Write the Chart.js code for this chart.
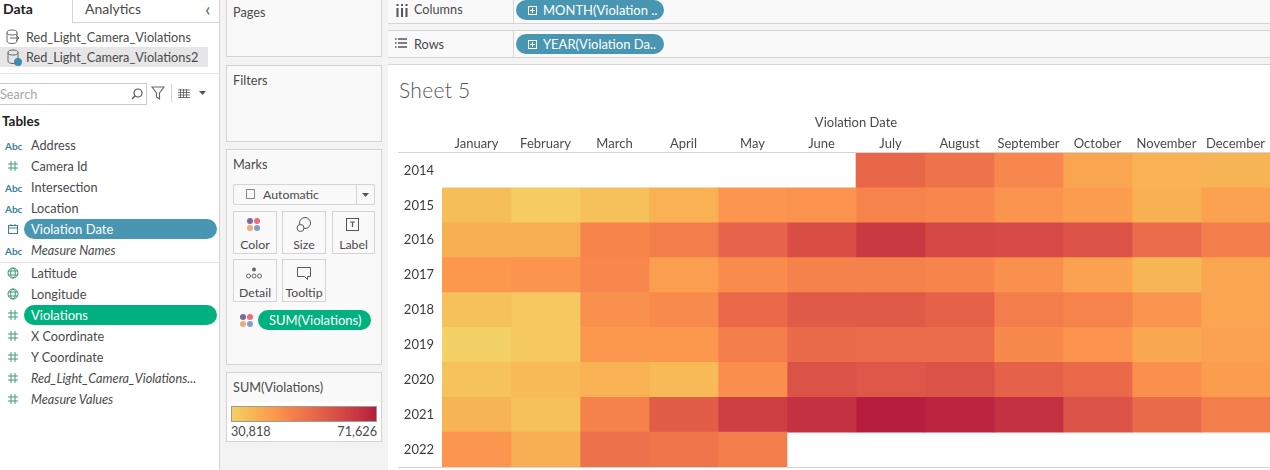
<!DOCTYPE html>
<html>
<head>
<meta charset="utf-8">
<title>Sheet 5</title>
<script src="https://cdn.jsdelivr.net/npm/chart.js@4/dist/chart.umd.min.js"></script>
<style>
  html, body { margin: 0; padding: 0; background: #fff; }
  #page { position: relative; width: 1270px; height: 470px; overflow: hidden; font: 12.7px Lato, sans-serif; color: #4a4a4a; background: #fff; }
  #page > * { position: absolute; box-sizing: border-box; }
  .t { white-space: nowrap; line-height: 16px; }
  .panel { background: #f9f9f9; border: 1px solid #d4d4d4; }
  .btn { background: #f9f9f9; border: 1px solid #d4d4d4; text-align: center; padding-top: 25px; line-height: 16px; font-size: 12.3px; }
  .pill { border-radius: 10px; color: #fff; height: 20px; line-height: 20px; padding-left: 7px; white-space: nowrap; font-size: 13px; }
  .line { background: #d4d4d4; }
  svg { overflow: visible; }
</style>
</head>
<body>
<div id="page">
  <canvas id="heat" width="872" height="364" style="left:398px;top:104px;width:872px;height:364px"></canvas>
</div>
<script>
const months = ['January','February','March','April','May','June','July','August','September','October','November','December'];
const years = ['2014','2015','2016','2017','2018','2019','2020','2021','2022'];

// SUM(Violations) per month
const v2014 = [null,null,null,null,null,null,54079,51222,46325,39796,37347,36939];
const v2015 = [34899,32042,34491,37347,43060,43877,47141,46325,43468,41836,37755,40612];
const v2016 = [38163,38163,46733,48365,54895,60200,65505,61832,61424,59384,52854,48774];
const v2017 = [42652,43468,46325,41428,45101,47549,47549,46733,44285,40612,36531,39796];
const v2018 = [34491,32858,44285,45509,53670,57343,57343,55303,48774,47141,43468,39796];
const v2019 = [30818,32858,42652,42652,48774,53262,52854,52854,45917,43877,39388,40612];
const v2020 = [34083,35715,37347,35715,44693,59384,58159,59384,55303,53670,44285,41836];
const v2021 = [36939,34491,47549,56527,64281,67545,71626,69994,67545,59384,53262,48365];
const v2022 = [43060,38163,51630,50814,48365,null,null,null,null,null,null,null];
const yearValues = [v2014,v2015,v2016,v2017,v2018,v2019,v2020,v2021,v2022];

const minViolations = 30818;
const maxViolations = 71626;
const colorStops = ['#f4d166','#f6be59','#f9aa51','#fc964e','#f6834b','#ee734a','#e56249','#db5247','#cf4244','#c43141','#b71d3e'];

function colorFor(v) {
    if (v === null) return 'rgba(0,0,0,0)';
    const t = (v - minViolations) / (maxViolations - minViolations) * (colorStops.length - 1);
    const i = Math.min(Math.floor(t), colorStops.length - 2);
    const a = colorStops[i], b = colorStops[i + 1], f = t - i;
    const ch = n => Math.round(parseInt(a.substr(n, 2), 16) * (1 - f) + parseInt(b.substr(n, 2), 16) * f);
    return `rgb(${ch(1)},${ch(3)},${ch(5)})`;
}

// one stacked dataset per month, every cell has width 1 on the hidden x scale
// (months without data stay in the stack but are transparent)
const datasets = months.map((m, mi) => ({
    label: m,
    data: yearValues.map(() => 1),
    backgroundColor: yearValues.map(row => colorFor(row[mi])),
    borderWidth: 0,
    barPercentage: 1,
    categoryPercentage: 1
}));

new Chart(document.getElementById('heat'), {
    type: 'bar',
    data: { labels: years, datasets: datasets },
    options: {
        indexAxis: 'y',
        responsive: false,
        animation: false,
        layout: { padding: { bottom: 1 } },
        plugins: { legend: { display: false }, tooltip: { enabled: false } },
        scales: {
            x: { type: 'linear', stacked: true, min: 0, max: 12, display: false },
            y: {
                type: 'category',
                stacked: true,
                offset: true,
                grid: { display: false, drawTicks: false },
                border: { display: false },
                ticks: { color: '#3c3c3c', padding: 8, font: { family: 'Lato', size: 13 } },
                afterFit: s => { s.width = 44; s.paddingTop = 0; s.paddingBottom = 0; }
            },
            months: {
                type: 'category',
                axis: 'x',
                position: 'top',
                labels: months,
                offset: true,
                grid: { display: false, drawTicks: false },
                border: { display: false },
                title: { display: true, text: 'Violation Date', color: '#4a4a4a', font: { family: 'Lato', size: 13 }, padding: { top: 11, bottom: 0 } },
                ticks: { color: '#4a4a4a', padding: 1, maxRotation: 0, autoSkip: false, font: { family: 'Lato', size: 13 } },
                afterFit: s => { s.height = 49; }
            }
        }
    }
});

// ---- Tableau window chrome around the chart ----
const page = document.getElementById('page');

function add(html) {
    page.insertAdjacentHTML('beforeend', html);
}
function box(x, y, w, h, cls, extra) {
    add(`<div class="${cls || ''}" style="left:${x}px;top:${y}px;width:${w}px;height:${h}px;${extra || ''}"></div>`);
}
function text(x, cy, s, extra) {
    add(`<div class="t" style="left:${x}px;top:${cy - 8}px;${extra || ''}">${s}</div>`);
}
function icon(x, y, w, h, inner) {
    add(`<svg style="left:${x}px;top:${y}px" width="${w}" height="${h}" viewBox="0 0 ${w} ${h}" fill="none">${inner}</svg>`);
}
function pill(x, y, w, s, color, extra) {
    add(`<div class="pill" style="left:${x}px;top:${y}px;width:${w}px;background:${color};${extra || ''}">${s}</div>`);
}

// background columns
box(219, 0, 169, 470, '', 'background:#f3f3f3;border-left:1px solid #d4d4d4');
box(388, 0, 882, 64, '', 'background:#f9f9f9');
box(388, 24, 882, 6, '', 'background:#f3f3f3');
box(388, 58, 882, 6, '', 'background:#f3f3f3');
box(388, 23, 882, 1, 'line');
box(388, 30, 882, 1, 'line');
box(388, 57, 882, 1, 'line');
box(388, 64, 882, 1, 'line');
box(513, 0, 1, 23, 'line');
box(513, 31, 1, 26, 'line');
box(398, 152, 872, 1, 'line');
box(398, 467, 872, 1, 'line');

// data pane
text(3, 9, 'Data', 'font-weight:700;color:#222;font-size:14px');
text(85, 9, 'Analytics', 'font-size:14px');
text(205, 8, '&#x2039;', 'font-size:20px;color:#666');
box(72, 0, 1, 23, 'line');
box(72, 22, 147, 1, 'line');
box(0, 47, 208, 20, '', 'background:#e6e6e6');
box(0, 73, 219, 1, '', 'background:#e6e6e6');
const dbIcon = '<ellipse cx="7" cy="3.5" rx="5" ry="2.5" stroke="#666"/><path d="M2 3.5V12c0 1.5 2 2.5 5 2.5s5-1 5-2.5V3.5" stroke="#666"/>';
icon(5, 29, 16, 16, dbIcon + '<path d="M5 9h9M11 6l3 3-3 3" stroke="#666"/>');
icon(6, 49, 16, 16, dbIcon + '<circle cx="12" cy="13" r="4" fill="#3f8cb0"/>');
text(26, 37, 'Red_Light_Camera_Violations');
text(26, 57, 'Red_Light_Camera_Violations2');
box(-1, 83, 148, 22, '', 'background:#fff;border:1px solid #ccc');
text(0, 94, 'Search', 'color:#a8a8a8');
icon(130, 87, 14, 14, '<circle cx="8" cy="6" r="4" stroke="#555" stroke-width="1.2"/><path d="M5 9l-3 3" stroke="#555" stroke-width="1.4"/>');
icon(151, 85, 15, 15, '<path d="M1 2h12L8.5 8v6l-3-2V8z" stroke="#666" stroke-width="1.1"/>');
box(171, 84, 1, 18, '', 'background:#d4d4d4');
icon(178, 89, 13, 10, '<path d="M0 1h12M0 3.5h12M0 6h12M0 8.5h12M2.5 0v9M5.5 0v9M8.5 0v9" stroke="#555" stroke-width=".8"/>');
icon(199, 91, 8, 5, '<path d="M0 0h7L3.5 4z" fill="#555"/>');
text(2, 121, 'Tables', 'font-weight:700;color:#222;font-size:13.5px');

const absIcon = cy => text(5, cy + 1, 'Abc', 'font-size:10px;color:#3c7f9c;font-weight:700');
const hashIcon = cy => icon(8, cy - 5, 10, 10, '<path d="M3 0v10M7 0v10M0 3h10M0 7h10" stroke="#3f9a7c"/>');
const globeIcon = cy => icon(7, cy - 6, 12, 12, '<circle cx="6" cy="6" r="5" stroke="#3f9a7c"/><ellipse cx="6" cy="6" rx="2.3" ry="5" stroke="#3f9a7c"/><path d="M1 4h10M1 8h10" stroke="#3f9a7c"/>');

[['Address', 145, absIcon], ['Camera Id', 166, hashIcon], ['Intersection', 187, absIcon], ['Location', 208, absIcon],
 ['Measure Names', 250, absIcon, true], ['Latitude', 273, globeIcon], ['Longitude', 294, globeIcon],
 ['X Coordinate', 336, hashIcon], ['Y Coordinate', 357, hashIcon],
 ['Red_Light_Camera_Violations...', 378, hashIcon, true], ['Measure Values', 399, hashIcon, true]
].forEach(([name, cy, ic, italic]) => {
    ic(cy);
    text(31, cy, name, italic ? 'font-style:italic' : '');
});
icon(8, 224, 10, 10, '<rect x=".5" y="1.5" width="9" height="8" stroke="#3c7f9c"/><path d="M0 4h10M3 0v2M7 0v2" stroke="#3c7f9c"/>');
pill(24, 219, 193, 'Violation Date', '#4996b2');
box(0, 262, 219, 1, '', 'background:#e2e2e2');
hashIcon(315);
pill(24, 305, 193, 'Violations', '#00b180');

// cards
box(226, -2, 156, 59, 'panel');
text(233, 12, 'Pages');
box(226, 65, 156, 77, 'panel');
text(233, 80, 'Filters');
box(226, 149, 156, 216, 'panel');
text(233, 164, 'Marks');
box(233, 184, 142, 21, '', 'background:#f9f9f9;border:1px solid #d4d4d4;border-radius:2px');
box(356, 185, 1, 19, 'line');
box(246, 189, 9, 10, '', 'border:1px solid #8a8a8a');
text(263, 195, 'Automatic', 'font-size:12.3px');
icon(362, 193, 8, 5, '<path d="M0 0h7L3.5 4z" fill="#555"/>');

[['Color', 233, 211], ['Size', 282, 211], ['Label', 332, 211], ['Detail', 233, 259], ['Tooltip', 282, 259]].forEach(([name, x, y]) => {
    add(`<div class="btn" style="left:${x}px;top:${y}px;width:${name === 'Label' ? 43 : 44}px;height:43px">${name}</div>`);
});
const dots = (x, y) => icon(x, y, 16, 16, '<circle cx="4" cy="4" r="3" fill="#7c6a96"/><circle cx="11" cy="4" r="3" fill="#ef6a7a"/><circle cx="4" cy="11" r="3" fill="#f2a877"/><circle cx="11" cy="11" r="3" fill="#7f9ecb"/>');
dots(246, 217);
dots(239, 313);
icon(296, 216, 16, 18, '<circle cx="9" cy="7" r="5.5" stroke="#555"/><circle cx="4.5" cy="12" r="3.5" fill="#f9f9f9" stroke="#555"/>');
icon(346, 218, 14, 14, '<rect x=".5" y=".5" width="12" height="12" stroke="#555"/><path d="M4 4h5M6.5 4v5" stroke="#555" stroke-width="1.2"/>');
icon(246, 267, 16, 12, '<circle cx="8" cy="2.5" r="2" fill="#666"/><circle cx="2.5" cy="9" r="2" stroke="#666"/><circle cx="8" cy="9" r="2" stroke="#666"/><circle cx="13.5" cy="9" r="2" stroke="#666"/>');
icon(297, 267, 15, 14, '<path d="M.5.5h13v9h-3v3l-3-3h-7z" stroke="#555"/>');
pill(258, 310, 113, 'SUM(Violations)', '#00b180', 'border-radius:10px;padding-left:11px');

box(226, 372, 156, 70, 'panel');
text(233, 387, 'SUM(Violations)');
box(227, 402, 154, 39, '', 'background:#fff');
box(231, 406, 146, 16, '', `border:1px solid #a09c90;background:linear-gradient(to right,${colorStops.join(',')})`);
text(231, 431, minViolations.toLocaleString('en-US'));
add(`<div class="t" style="right:${1270 - 377}px;top:423px">${maxViolations.toLocaleString('en-US')}</div>`);

// shelves
icon(396, 4, 12, 12, '<path d="M1.5 4v9M6 4v9M10.5 4v9" stroke="#555" stroke-width="2"/><path d="M1.5 0v2M6 0v2M10.5 0v2" stroke="#555" stroke-width="2"/>');
text(414, 9, 'Columns');
icon(395, 38, 12, 10, '<path d="M3 1h9M3 5h9M3 9h9" stroke="#555" stroke-width="1.6"/><path d="M0 1h1.5M0 5h1.5M0 9h1.5" stroke="#555" stroke-width="1.6"/>');
text(414, 44, 'Rows');
const plusIcon = '<rect x=".5" y=".5" width="8" height="8" stroke="#fff"/><path d="M2 4.5h5M4.5 2v5" stroke="#fff"/>';
pill(516, 0, 148, 'MONTH(Violation ..', '#4996b2', 'padding-left:27px');
icon(528, 6, 9, 9, plusIcon);
pill(516, 34, 148, 'YEAR(Violation Da..', '#4996b2', 'padding-left:27px');
icon(528, 40, 9, 9, plusIcon);

text(399, 90, 'Sheet 5', 'font-size:21px;font-weight:300;color:#555;line-height:16px;letter-spacing:.3px');
</script>
</body>
</html>
